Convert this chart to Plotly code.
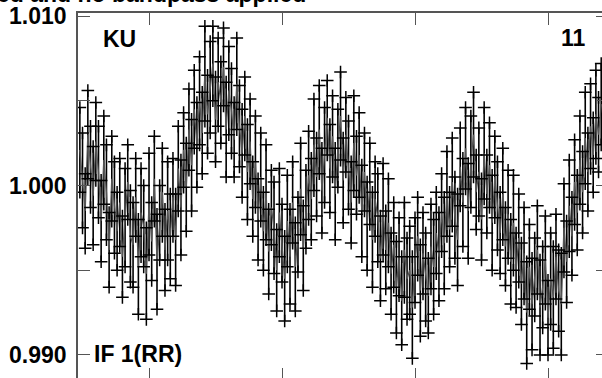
import plotly.graph_objects as go

# channel numbers and amplitudes
channels = list(range(24, 221))

amplitude = [
    1.0021, 1.0003, 0.9985, 1.0030, 1.0011, 0.9994, 1.0026, 1.0008,
    0.9979, 1.0015, 0.9996, 0.9962, 1.0004, 0.9987, 0.9973,
    0.9990, 0.9958, 0.9981, 1.0002, 0.9970, 0.9965, 0.9993, 0.9952, 0.9984, 0.9976,
    0.9948, 0.9989, 0.9967, 1.0004, 0.9955, 0.9978, 0.9996, 0.9962, 0.9985, 0.9970,
    0.9993, 0.9968, 1.0010, 0.9987, 1.0021, 0.9999, 1.0033, 1.0012, 1.0045, 1.0024,
    1.0050, 1.0031, 1.0066, 1.0042, 1.0058, 1.0072, 1.0039, 1.0061,
    1.0049, 1.0070, 1.0033, 1.0056, 1.0044, 1.0027, 1.0060, 1.0035,
    1.0019, 1.0041, 1.0008, 1.0026, 0.9992, 1.0014, 0.9980, 1.0005, 0.9973, 0.9996,
    0.9961, 0.9987, 0.9975, 0.9950,
    0.9984, 0.9966, 0.9945, 0.9979, 0.9958, 0.9990, 0.9952, 0.9971, 0.9998, 0.9963,
    0.9986, 1.0006,
    0.9992, 1.0024, 1.0005, 1.0033, 0.9997, 1.0018, 1.0040, 1.0010, 1.0029, 0.9995,
    1.0022, 1.0041, 1.0003, 1.0030, 1.0012, 0.9990, 1.0025, 1.0006,
    1.0018, 0.9985, 1.0008, 0.9976, 1.0001, 0.9968, 0.9992, 0.9981, 0.9957, 0.9986,
    0.9962, 0.9978, 0.9948,
    0.9965, 0.9940, 0.9958, 0.9932, 0.9962, 0.9945, 0.9950, 0.9928, 0.9956, 0.9970,
    0.9938, 0.9960, 0.9946, 0.9935, 0.9964, 0.9952, 0.9972,
    0.9958, 0.9984, 0.9966, 0.9995, 0.9974, 1.0002, 0.9981, 0.9968,
    1.0011, 0.9990, 1.0022, 0.9985, 1.0014, 1.0030, 0.9996, 1.0008, 0.9980, 1.0019,
    0.9995, 1.0012, 0.9978, 1.0005, 0.9988,
    0.9972, 0.9995, 0.9964, 0.9983, 0.9955, 0.9978, 0.9950, 0.9969, 0.9942, 0.9960,
    0.9925,
    0.9952, 0.9930, 0.9946, 0.9962, 0.9928, 0.9940, 0.9956, 0.9922, 0.9945, 0.9934,
    0.9958, 0.9938, 0.9930,
    0.9975, 0.9955, 0.9988, 0.9970, 1.0002, 0.9984, 1.0015, 0.9996, 1.0028, 1.0008,
    1.0035, 1.0018, 1.0042, 1.0030, 1.0048,
]

errors = [
    0.0025, 0.0028, 0.0022, 0.0026, 0.0024, 0.0029, 0.0023, 0.0027,
    0.0024, 0.0026, 0.0028, 0.0022, 0.0025, 0.0027, 0.0023,
    0.0026, 0.0024, 0.0029, 0.0022, 0.0027, 0.0025, 0.0023, 0.0028, 0.0026, 0.0024,
    0.0027, 0.0030, 0.0023, 0.0025, 0.0028, 0.0022, 0.0026, 0.0024, 0.0029, 0.0025,
    0.0023, 0.0027, 0.0025, 0.0028, 0.0022, 0.0026, 0.0024, 0.0027, 0.0023, 0.0025,
    0.0026, 0.0024, 0.0028, 0.0023, 0.0027, 0.0022, 0.0025, 0.0026,
    0.0024, 0.0023, 0.0028, 0.0026, 0.0025, 0.0022, 0.0027, 0.0024,
    0.0026, 0.0023, 0.0028, 0.0025, 0.0022, 0.0027, 0.0024, 0.0026, 0.0023, 0.0028,
    0.0025, 0.0022, 0.0027, 0.0024,
    0.0026, 0.0023, 0.0025, 0.0027, 0.0028, 0.0024, 0.0026, 0.0022, 0.0027, 0.0025,
    0.0023, 0.0026,
    0.0024, 0.0027, 0.0023, 0.0026, 0.0025, 0.0028, 0.0022, 0.0026, 0.0024, 0.0027,
    0.0023, 0.0026, 0.0025, 0.0022, 0.0026, 0.0024, 0.0028, 0.0023,
    0.0025, 0.0027, 0.0023, 0.0026, 0.0024, 0.0028, 0.0022, 0.0026, 0.0025, 0.0027,
    0.0023, 0.0026, 0.0024,
    0.0025, 0.0027, 0.0023, 0.0026, 0.0028, 0.0024, 0.0026, 0.0030, 0.0025, 0.0023,
    0.0027, 0.0024, 0.0026, 0.0022, 0.0025, 0.0028, 0.0024,
    0.0026, 0.0023, 0.0027, 0.0025, 0.0022, 0.0026, 0.0024, 0.0027,
    0.0023, 0.0026, 0.0024, 0.0028, 0.0027, 0.0025, 0.0022, 0.0026, 0.0024, 0.0027,
    0.0023, 0.0025, 0.0028, 0.0024, 0.0026,
    0.0024, 0.0027, 0.0023, 0.0026, 0.0025, 0.0028, 0.0022, 0.0026, 0.0024, 0.0027,
    0.0030,
    0.0025, 0.0027, 0.0023, 0.0026, 0.0028, 0.0024, 0.0026, 0.0022, 0.0027, 0.0030,
    0.0025, 0.0024, 0.0030,
    0.0026, 0.0024, 0.0027, 0.0023, 0.0025, 0.0022, 0.0026, 0.0024, 0.0027, 0.0023,
    0.0025, 0.0022, 0.0026, 0.0022, 0.0024,
]

ytick_vals = [0.990, 0.995, 1.000, 1.005, 1.010]
ytick_text = ["0.990", "", "1.000", "", "1.010"]
xtick_vals = [50, 100, 150, 200]

W, H = 602, 378
L, T = 78, 13
PW, PH = W - L, H - T

def px(x):
    return (x - L) / PW

def py(y):
    return 1 - (y - T) / PH

xr = [23.3, 220.3]
yr = [0.98864, 1.01018]

upper = [a + e for a, e in zip(amplitude, errors)]
lower = [a - e for a, e in zip(amplitude, errors)]

fig = go.Figure()

# gray line through the points, black error bars
fig.add_trace(go.Scatter(
    x=channels, y=amplitude, mode='lines',
    line=dict(color='#555555', width=1.3),
    error_y=dict(type='data', array=errors, visible=True,
                 color='#000000', thickness=1.6, width=0),
    hoverinfo='skip', showlegend=False,
))
# crosses at both ends of each bar
fig.add_trace(go.Scatter(
    x=channels + channels, y=upper + lower, mode='markers',
    marker=dict(symbol='cross-thin', size=9, line=dict(color='#000000', width=1.5)),
    hoverinfo='skip', showlegend=False,
))
# dummy trace so the mirrored axes exist
fig.add_trace(go.Scatter(x=[None], y=[None], xaxis='x2', yaxis='y2', showlegend=False))

bold = dict(family='Liberation Sans, Arial, sans-serif', size=23, color='#000000', weight='bold')

fig.update_layout(
    width=W, height=H,
    margin=dict(l=L, r=0, t=T, b=0, autoexpand=False),
    paper_bgcolor='white', plot_bgcolor='white',
    xaxis=dict(range=xr, showgrid=False, zeroline=False, showline=False, automargin=False,
               tickvals=xtick_vals, showticklabels=False,
               ticks='inside', ticklen=10, tickwidth=1.3, tickcolor='#555555'),
    xaxis2=dict(range=xr, overlaying='x', side='top', showgrid=False, zeroline=False,
                showline=True, linecolor='#555555', linewidth=1.5, automargin=False,
                tickvals=xtick_vals, showticklabels=False,
                ticks='inside', ticklen=12, tickwidth=1.3, tickcolor='#555555'),
    yaxis=dict(range=yr, showgrid=False, zeroline=False, automargin=False,
               showline=True, linecolor='#555555', linewidth=1.5,
               tickvals=ytick_vals, ticktext=ytick_text, tickfont=bold,
               ticks='inside', ticklen=12, tickwidth=1.3, tickcolor='#555555',
               ticklabelstandoff=5),
    yaxis2=dict(range=yr, overlaying='y', side='right', showgrid=False, zeroline=False,
                showline=False, tickvals=ytick_vals, showticklabels=False, automargin=False,
                ticks='inside', ticklen=6, tickwidth=1.3, tickcolor='#555555'),
    annotations=[
        dict(text='ed and no bandpass applied', xref='paper', yref='paper',
             x=px(308), y=py(-6), xanchor='right', yanchor='middle',
             showarrow=False, font=bold),
        dict(text='KU', xref='paper', yref='paper', x=px(101), y=py(39),
             xanchor='left', yanchor='middle', showarrow=False, font=bold),
        dict(text='11', xref='paper', yref='paper', x=px(588), y=py(38),
             xanchor='right', yanchor='middle', showarrow=False, font=bold),
        dict(text='IF 1(RR)', xref='paper', yref='paper', x=px(92), y=py(354),
             xanchor='left', yanchor='middle', showarrow=False, font=bold),
    ],
)

# drop the browser's default page margin so the figure sits at the window corner
fig.write_html("out.html", config={'displayModeBar': False},
               post_script="document.body.style.margin='0';")
